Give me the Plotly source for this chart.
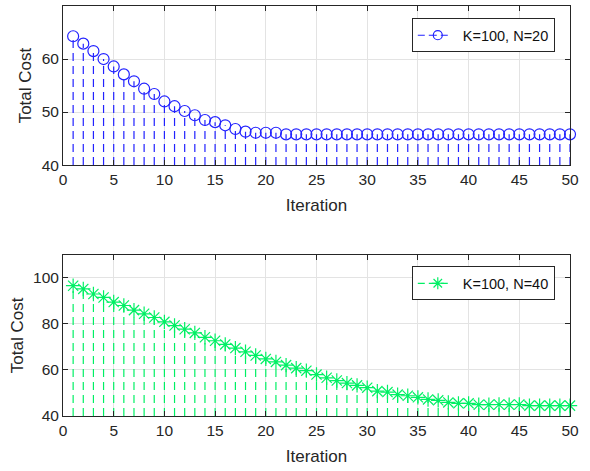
import plotly.graph_objects as go
from plotly.subplots import make_subplots

# Iterations shared by both panels
iterations = list(range(1, 51))

# Total cost, K=100, N=20
cost_n20 = [64.3, 62.9, 61.5, 60.0, 58.6, 57.1, 55.8, 54.4, 53.4, 52.0,
            51.1, 50.2, 49.4, 48.5, 48.1, 47.5, 46.8, 46.3, 46.1, 46.1,
            46.1, 45.8, 45.8, 45.8, 45.8, 45.8, 45.8, 45.8, 45.8, 45.8,
            45.8, 45.8, 45.8, 45.8, 45.8, 45.8, 45.8, 45.8, 45.8, 45.8,
            45.8, 45.8, 45.8, 45.8, 45.8, 45.8, 45.8, 45.8, 45.8, 45.8]

# Total cost, K=100, N=40
cost_n40 = [96.6, 95.2, 93.0, 91.5, 89.5, 88.0, 86.0, 84.4, 82.8, 80.9,
            79.3, 77.7, 76.1, 74.2, 72.7, 71.1, 69.5, 67.9, 66.3, 64.8,
            63.5, 62.1, 60.8, 59.7, 58.0, 56.6, 55.4, 54.3, 53.3, 52.3,
            50.8, 50.4, 49.3, 48.8, 48.1, 47.2, 46.8, 45.9, 45.5, 45.5,
            44.9, 44.9, 45.0, 44.9, 45.0, 44.5, 44.5, 44.5, 44.5, 44.5]

x_ticks = list(range(0, 51, 5))

BLUE = "#2222ff"
GREEN = "#00f064"
DASH = "8px,5px"
FONT = "Liberation Sans, Arial, sans-serif"

fig = make_subplots(rows=2, cols=1, vertical_spacing=0.22)


def add_stem(fig, values, row, color, symbol, size, base, name, legend):
    # dashed stems from the bottom of the axis up to each value
    sx, sy = [], []
    for xi, yi in zip(iterations, values):
        sx += [xi, xi, None]
        sy += [base, yi, None]
    fig.add_trace(go.Scatter(x=sx, y=sy, mode="lines",
                             line=dict(color=color, width=1.2, dash=DASH),
                             showlegend=False, hoverinfo="skip"),
                  row=row, col=1)
    fig.add_trace(go.Scatter(x=iterations, y=values, mode="markers",
                             marker=dict(symbol=symbol, size=size,
                                         color=color, line=dict(color=color, width=1.2)),
                             showlegend=False, name=name, cliponaxis=False),
                  row=row, col=1)
    # legend entry (dashed line + marker, like MATLAB stem legend)
    fig.add_trace(go.Scatter(x=[None], y=[None], mode="lines+markers", name=name,
                             line=dict(color=color, width=1.2,
                                       dash="7px,4px,8px,4px,7px,10px"),
                             marker=dict(symbol=symbol, size=size - 2,
                                         color=color, line=dict(color=color, width=1.2)),
                             legend=legend),
                  row=row, col=1)


add_stem(fig, cost_n20, 1, BLUE, "circle-open", 11, 40, "K=100, N=20", "legend")
add_stem(fig, cost_n40, 2, GREEN, "asterisk-open", 12, 40, "K=100, N=40", "legend2")

axis_style = dict(
    showline=True, linecolor="#262626", linewidth=1, mirror="ticks",
    ticks="inside", ticklen=5, tickcolor="#262626",
    showgrid=True, gridcolor="#e3e3e3", gridwidth=1,
    zeroline=False, tickfont=dict(size=15.5, color="#262626", family=FONT),
    title_font=dict(size=17, color="#262626", family=FONT),
)

fig.update_xaxes(range=[0, 50], tickvals=x_ticks, title_text="Iteration",
                 title_standoff=12, **axis_style)
fig.update_yaxes(title_text="Total Cost", title_standoff=5, **axis_style)
fig.update_yaxes(range=[40, 70], tickvals=[40, 50, 60, 70], row=1, col=1)
fig.update_yaxes(range=[40, 110], tickvals=[40, 60, 80, 100], row=2, col=1)

legend_style = dict(
    bgcolor="white", bordercolor="#262626", borderwidth=1,
    font=dict(size=14.5, color="#111111", family=FONT),
    xanchor="right", yanchor="top", itemwidth=40,
)

fig.update_layout(
    width=590, height=471,
    margin=dict(l=63, r=20, t=6, b=55),
    plot_bgcolor="white", paper_bgcolor="white",
    font=dict(family=FONT),
    xaxis=dict(domain=[0, 1]),
    yaxis=dict(domain=[0.612, 1.0]),
    yaxis2=dict(domain=[0.0, 0.393]),
    legend=dict(x=0.97, y=0.97, **legend_style),
    legend2=dict(x=0.97, y=0.365, **legend_style),
)

# drop the default page margin so the figure sits at the window corner
fig.write_html("out.html", config={"displayModeBar": False},
               post_script="document.body.style.margin='0';")
